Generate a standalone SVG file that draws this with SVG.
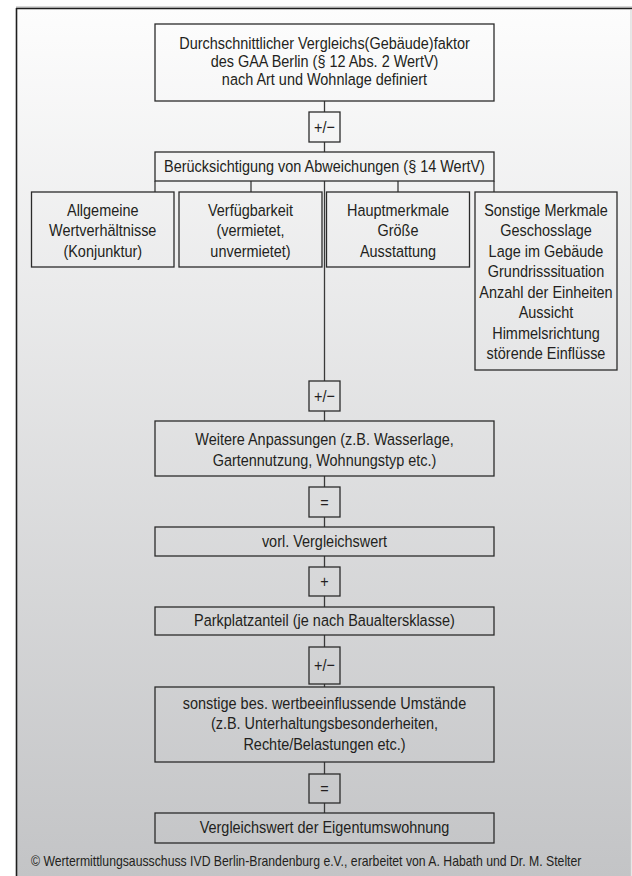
<svg xmlns="http://www.w3.org/2000/svg" width="632" height="876" viewBox="0 0 632 876">
<defs>
<linearGradient id="bg" x1="0" y1="8" x2="0" y2="876" gradientUnits="userSpaceOnUse">
<stop offset="0" stop-color="#fdfdfd"/>
<stop offset="1" stop-color="#c3c4c6"/>
</linearGradient>
<style>
.t{font-family:"Liberation Sans",Arial,sans-serif;font-size:17px;fill:#231f20;text-anchor:middle}
.f{font-family:"Liberation Sans",Arial,sans-serif;font-size:14.4px;fill:#231f20;text-anchor:start}
.box{fill:none;stroke:#2b2b2b;stroke-width:1.3}
.conn line{stroke:#3a3a3a;stroke-width:1.3}
</style>
</defs>
<rect x="0" y="0" width="632" height="876" fill="#ffffff"/>
<rect x="16" y="8" width="615" height="880" fill="url(#bg)"/>
<line x1="16" y1="7" x2="632" y2="7" stroke="#b0b0b0" stroke-width="1"/>
<line x1="16" y1="8.5" x2="632" y2="8.5" stroke="#1e1e1e" stroke-width="1.6"/>
<line x1="16.5" y1="8" x2="16.5" y2="876" stroke="#1e1e1e" stroke-width="1.6"/>
<line x1="631" y1="9" x2="631" y2="876" stroke="#cfcfcf" stroke-width="1"/>

<g class="conn">
<line x1="324.5" y1="101" x2="324.5" y2="112"/>
<line x1="324.5" y1="142" x2="324.5" y2="152"/>
<line x1="155" y1="181" x2="155" y2="192"/>
<line x1="251" y1="181" x2="251" y2="192"/>
<line x1="398" y1="181" x2="398" y2="192"/>
<line x1="494" y1="181" x2="494" y2="192"/>
<line x1="324.5" y1="181" x2="324.5" y2="381"/>
<line x1="324.5" y1="411" x2="324.5" y2="421"/>
<line x1="324.5" y1="476" x2="324.5" y2="487"/>
<line x1="324.5" y1="517" x2="324.5" y2="527"/>
<line x1="324.5" y1="556" x2="324.5" y2="567"/>
<line x1="324.5" y1="596" x2="324.5" y2="607"/>
<line x1="324.5" y1="635" x2="324.5" y2="647"/>
<line x1="324.5" y1="684" x2="324.5" y2="687"/>
<line x1="324.5" y1="762" x2="324.5" y2="774"/>
<line x1="324.5" y1="803" x2="324.5" y2="813"/>
</g>

<g id="n-start">
<rect class="box" x="155" y="24" width="339" height="77"/>
<g transform="translate(324.5 0) scale(0.85 1)">
<text class="t" x="0" y="49">Durchschnittlicher Vergleichs(Gebäude)faktor</text>
<text class="t" x="0" y="67.3">des GAA Berlin (§ 12 Abs. 2 WertV)</text>
<text class="t" x="0" y="85.5">nach Art und Wohnlage definiert</text>
</g>
</g>

<g id="op1">
<rect class="box" x="309" y="112" width="31" height="30"/>
<g transform="translate(324.5 0) scale(0.85 1)"><text class="t" x="0" y="133.5">+/−</text></g>
</g>

<g id="n-abw">
<rect class="box" x="155" y="152" width="339" height="29"/>
<g transform="translate(324.5 0) scale(0.85 1)"><text class="t" x="0" y="172.5">Berücksichtigung von Abweichungen (§ 14 WertV)</text></g>
</g>

<g id="c1">
<rect class="box" x="31.5" y="192" width="142.5" height="75"/>
<g transform="translate(102.75 0) scale(0.85 1)">
<text class="t" x="0" y="216">Allgemeine</text>
<text class="t" x="0" y="236.5">Wertverhältnisse</text>
<text class="t" x="0" y="257">(Konjunktur)</text>
</g>
</g>

<g id="c2">
<rect class="box" x="179" y="192" width="143" height="75"/>
<g transform="translate(250.5 0) scale(0.85 1)">
<text class="t" x="0" y="216">Verfügbarkeit</text>
<text class="t" x="0" y="236.5">(vermietet,</text>
<text class="t" x="0" y="257">unvermietet)</text>
</g>
</g>

<g id="c3">
<rect class="box" x="326.5" y="192" width="143" height="75"/>
<g transform="translate(398 0) scale(0.85 1)">
<text class="t" x="0" y="216">Hauptmerkmale</text>
<text class="t" x="0" y="236.5">Größe</text>
<text class="t" x="0" y="257">Ausstattung</text>
</g>
</g>

<g id="c4">
<rect class="box" x="475" y="192" width="142" height="178"/>
<g transform="translate(546 0) scale(0.85 1)">
<text class="t" x="0" y="216">Sonstige Merkmale</text>
<text class="t" x="0" y="236.5">Geschosslage</text>
<text class="t" x="0" y="257">Lage im Gebäude</text>
<text class="t" x="0" y="277.5">Grundrisssituation</text>
<text class="t" x="0" y="298">Anzahl der Einheiten</text>
<text class="t" x="0" y="318.5">Aussicht</text>
<text class="t" x="0" y="339">Himmelsrichtung</text>
<text class="t" x="0" y="359.5">störende Einflüsse</text>
</g>
</g>

<g id="op2">
<rect class="box" x="309" y="381" width="31" height="30"/>
<g transform="translate(324.5 0) scale(0.85 1)"><text class="t" x="0" y="402">+/−</text></g>
</g>

<g id="n-weitere">
<rect class="box" x="155" y="421" width="339" height="55"/>
<g transform="translate(324.5 0) scale(0.85 1)">
<text class="t" x="0" y="445.5">Weitere Anpassungen (z.B. Wasserlage,</text>
<text class="t" x="0" y="466">Gartennutzung, Wohnungstyp etc.)</text>
</g>
</g>

<g id="op3">
<rect class="box" x="309" y="487" width="31" height="30"/>
<g transform="translate(324.5 0) scale(0.85 1)"><text class="t" x="0" y="508">=</text></g>
</g>

<g id="n-vorl">
<rect class="box" x="155" y="527" width="339" height="29"/>
<g transform="translate(324.5 0) scale(0.85 1)"><text class="t" x="0" y="547">vorl. Vergleichswert</text></g>
</g>

<g id="op4">
<rect class="box" x="309" y="567" width="31" height="29"/>
<g transform="translate(324.5 0) scale(0.85 1)"><text class="t" x="0" y="587.5">+</text></g>
</g>

<g id="n-park">
<rect class="box" x="155" y="607" width="339" height="28"/>
<g transform="translate(324.5 0) scale(0.85 1)"><text class="t" x="0" y="626.5">Parkplatzanteil (je nach Baualtersklasse)</text></g>
</g>

<g id="op5">
<rect class="box" x="309" y="647" width="31" height="37"/>
<g transform="translate(324.5 0) scale(0.85 1)"><text class="t" x="0" y="671">+/−</text></g>
</g>

<g id="n-sonst">
<rect class="box" x="155" y="687" width="339" height="75"/>
<g transform="translate(324.5 0) scale(0.85 1)">
<text class="t" x="0" y="709">sonstige bes. wertbeeinflussende Umstände</text>
<text class="t" x="0" y="729.5">(z.B. Unterhaltungsbesonderheiten,</text>
<text class="t" x="0" y="750">Rechte/Belastungen etc.)</text>
</g>
</g>

<g id="op6">
<rect class="box" x="309" y="774" width="31" height="29"/>
<g transform="translate(324.5 0) scale(0.85 1)"><text class="t" x="0" y="794.5">=</text></g>
</g>

<g id="n-end">
<rect class="box" x="155" y="813" width="339" height="30"/>
<g transform="translate(324.5 0) scale(0.85 1)"><text class="t" x="0" y="833.5">Vergleichswert der Eigentumswohnung</text></g>
</g>

<g id="footer" transform="translate(31 0) scale(0.85 1)">
<text class="f" x="0" y="866">© Wertermittlungsausschuss IVD Berlin-Brandenburg e.V., erarbeitet von A. Habath und Dr. M. Stelter</text>
</g>
</svg>
